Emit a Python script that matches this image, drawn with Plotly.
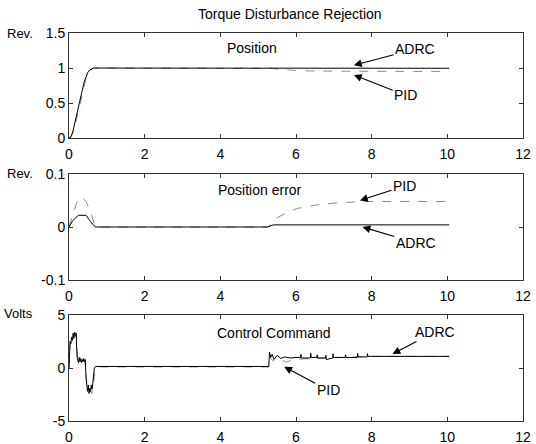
import plotly.graph_objects as go

# ---- Position (Rev.) ----
t_pos = [0, 0.05, 0.1, 0.15, 0.2, 0.25, 0.3, 0.35, 0.4, 0.45, 0.5, 0.55, 0.6, 0.65, 0.7,
         5.2, 5.3, 5.4, 5.5, 5.7, 6.0, 6.5, 7.0, 8.0, 9.0, 10.05]
pos_adrc = [0, 0.02, 0.09, 0.2, 0.32, 0.44, 0.56, 0.68, 0.8, 0.88, 0.94, 0.975, 0.99, 1.0, 1.0,
            1.0, 1.0, 0.997, 0.996, 0.997, 0.997, 0.997, 0.997, 0.997, 0.997, 0.997]
pos_pid = [0, 0.015, 0.07, 0.16, 0.27, 0.39, 0.51, 0.63, 0.75, 0.85, 0.92, 0.965, 0.99, 1.0, 1.0,
           1.0, 1.0, 0.994, 0.985, 0.973, 0.965, 0.957, 0.954, 0.952, 0.952, 0.952]

# ---- Position error (Rev.) ----
t_err_adrc = [0, 0.1, 0.25, 0.45, 0.57, 0.69, 5.25, 5.4, 10.05]
err_adrc = [0, 0.012, 0.022, 0.022, 0.01, 0.0, 0.0, 0.004, 0.004]
t_err_pid = [0, 0.1, 0.2, 0.34, 0.45, 0.55, 0.62, 0.7, 5.25, 5.47, 5.75, 6.04, 6.5, 7.0, 7.8, 8.5, 10.05]
err_pid = [0, 0.025, 0.045, 0.057, 0.048, 0.032, 0.015, 0.0, 0.0, 0.016, 0.027, 0.035, 0.041,
           0.045, 0.048, 0.048, 0.048]

# ---- Control command (Volts) ----
t_u_adrc = [0, 0.01, 0.03, 0.05, 0.07, 0.09, 0.11, 0.13, 0.15, 0.17, 0.19, 0.2, 0.22, 0.25, 0.27,
            0.29, 0.31, 0.33, 0.35, 0.37, 0.39, 0.41, 0.43, 0.45, 0.47, 0.49, 0.51, 0.53, 0.55,
            0.57, 0.59, 0.61, 0.63, 0.65, 0.67, 0.7, 5.28, 5.3, 5.33, 5.37, 5.42, 5.5, 5.6, 5.7,
            5.85, 6.0, 6.12, 6.13, 6.14, 6.38, 6.39, 6.4, 6.55, 6.56, 6.57, 6.78, 6.79, 6.8,
            6.97, 6.98, 6.99, 7.3, 7.31, 7.32, 7.62, 7.63, 7.64, 7.88, 7.89, 7.9, 8.0, 10.05]
u_adrc = [0, 2.0, 2.5, 2.3, 2.9, 2.6, 3.3, 2.8, 3.4, 3.0, 3.3, 2.0, 0.9, 0.5, 1.0,
          0.6, 0.9, 0.5, 0.8, 0.6, 0.9, 0.6, 0.8, -0.9, -1.8, -2.2, -1.6, -2.4, -1.9,
          -2.2, -1.6, -2.0, -1.4, -0.6, 0.0, 0.15, 0.15, 1.5, 1.0, 1.3, 0.8, 1.2, 0.9, 1.05,
          0.95, 1.0, 1.0, 1.3, 0.95, 0.95, 1.4, 1.0, 1.0, 1.25, 0.95, 0.95, 1.2, 0.8,
          0.95, 1.35, 1.0, 1.0, 1.25, 1.0, 1.0, 1.4, 1.05, 1.05, 1.35, 1.1, 1.1, 1.1]
t_u_pid = [0, 0.02, 0.05, 0.08, 0.12, 0.16, 0.2, 0.22, 0.26, 0.3, 0.34, 0.38, 0.42, 0.45, 0.48,
           0.52, 0.56, 0.6, 0.64, 0.68, 0.72, 5.28, 5.3, 5.35, 5.45, 5.55, 5.65, 5.75, 5.9, 6.1,
           6.4, 6.8, 7.2, 7.6, 8.0, 10.05]
u_pid = [0, 2.2, 2.8, 2.6, 3.1, 3.2, 3.0, 1.0, 0.6, 0.8, 0.7, 0.8, 0.6, -1.0, -2.0,
         -2.3, -2.1, -2.4, -1.8, -0.3, 0.1, 0.1, 1.2, 0.8, 0.6, 0.5, 0.7, 0.55, 0.8, 0.85,
         0.9, 0.95, 1.0, 1.05, 1.1, 1.1]

x_ticks = [0, 2, 4, 6, 8, 10, 12]

FONT = "Liberation Sans, Arial, sans-serif"
ADRC_LINE = dict(color="black", width=1)
PID_LINE = dict(color="#8a8a8a", width=1, dash="dash")

fig = go.Figure()
panels = [
    (t_pos, pos_adrc, t_pos, pos_pid, "x", "y"),
    (t_err_adrc, err_adrc, t_err_pid, err_pid, "x2", "y2"),
    (t_u_adrc, u_adrc, t_u_pid, u_pid, "x3", "y3"),
]
for ta, ya, tp, yp, xa, ya_ in panels:
    fig.add_trace(go.Scatter(x=tp, y=yp, mode="lines", line=PID_LINE, xaxis=xa, yaxis=ya_,
                             name="PID", showlegend=False))
    fig.add_trace(go.Scatter(x=ta, y=ya, mode="lines", line=ADRC_LINE, xaxis=xa, yaxis=ya_,
                             name="ADRC", showlegend=False))

axis_common = dict(showline=True, linecolor="#333", linewidth=1, mirror="ticks",
                   ticks="inside", ticklen=4, tickcolor="#333", showgrid=False,
                   zeroline=False, automargin=False,
                   tickfont=dict(family=FONT, size=14, color="black"))

domains = [(0.729, 1.0), (0.363, 0.637), (0.0, 0.273)]
yranges = [(0, 1.5), (-0.1, 0.1), (-5, 5)]
yticks = [[0, 0.5, 1, 1.5], [-0.1, 0, 0.1], [-5, 0, 5]]
yticktext = [["0", "0.5", "1", "1.5"], ["-0.1", "0", "0.1"], ["-5", "0", "5"]]

layout = dict(
    width=536, height=444,
    margin=dict(l=69, r=13, t=33, b=23, autoexpand=False),
    paper_bgcolor="white", plot_bgcolor="white",
    font=dict(family=FONT, size=13, color="black"),
)
for i in range(3):
    sx = "xaxis" if i == 0 else f"xaxis{i+1}"
    sy = "yaxis" if i == 0 else f"yaxis{i+1}"
    yname = "y" if i == 0 else f"y{i+1}"
    xname = "x" if i == 0 else f"x{i+1}"
    layout[sx] = dict(axis_common, range=[0, 12], tickvals=x_ticks, anchor=yname, domain=[0, 1],
                      ticklabelstandoff=3)
    layout[sy] = dict(axis_common, range=list(yranges[i]), tickvals=yticks[i],
                      ticktext=yticktext[i], anchor=xname, domain=list(domains[i]))
fig.update_layout(**layout)

ann = []
# title and unit labels
ann.append(dict(text="Torque Disturbance Rejection", xref="paper", yref="paper", x=0.487, y=1.049,
                xanchor="center", yanchor="middle", showarrow=False, font=dict(size=14)))
for lbl, yv in [("Rev.", 1.0), ("Rev.", 0.637), ("Volts", 0.278)]:
    ann.append(dict(text=lbl, xref="paper", yref="paper", x=-0.075, y=yv, xanchor="right",
                    yanchor="middle", showarrow=False, font=dict(size=13)))

# panel captions
ann.append(dict(text="Position", xref="x", yref="y", x=4.83, y=1.29, showarrow=False, font=dict(size=14)))
ann.append(dict(text="Position error", xref="x2", yref="y2", x=5.06, y=0.07, showarrow=False, font=dict(size=14)))
ann.append(dict(text="Control Command", xref="x3", yref="y3", x=5.42, y=3.3, showarrow=False, font=dict(size=14)))

# arrowed labels
arrows = [
    ("ADRC", "x", "y", 7.53, 1.04, 9.15, 1.27),
    ("PID", "x", "y", 7.53, 0.9, 8.9, 0.61),
    ("PID", "x2", "y2", 7.69, 0.05, 8.87, 0.077),
    ("ADRC", "x2", "y2", 7.76, 0.0, 9.17, -0.03),
    ("ADRC", "x3", "y3", 8.55, 1.33, 9.67, 3.4),
    ("PID", "x3", "y3", 5.69, 0.12, 6.85, -2.1),
]
for txt, xr, yr, hx, hy, tx, ty in arrows:
    ann.append(dict(text=txt, xref=xr, yref=yr, x=hx, y=hy, ax=tx, ay=ty, axref=xr, ayref=yr,
                    showarrow=True, arrowhead=2, arrowsize=1.3, arrowwidth=1.2, arrowcolor="black",
                    font=dict(size=14)))
fig.update_layout(annotations=ann)

fig.write_html("out.html")
